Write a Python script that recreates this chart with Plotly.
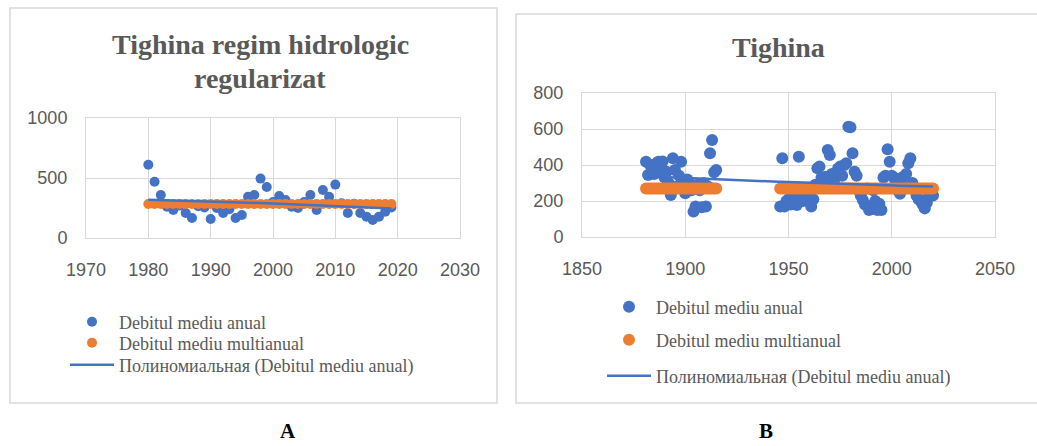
import numpy as np
import plotly.graph_objects as go

W, H = 1037, 446

# ---------------- data: panel A (regulated regime) ----------------
YEARS_A = list(range(1980, 2020))
ANNUAL_A = [610, 469, 358, 261, 233, 270, 208, 167, 265, 255,
            158, 250, 208, 240, 167, 192, 344, 358, 495, 425,
            300, 350, 317, 261, 250, 300, 358, 233, 400, 344,
            445, 290, 208, 285, 208, 178, 150, 178, 219, 255]
MULTI_A = 283

# ---------------- data: panel B (full record) ----------------
YEARS_B = list(range(1881, 1916)) + list(range(1946, 2021))
ANNUAL_B = [418, 344, 400, 380, 350, 410, 418, 370, 420, 330,
            363, 300, 233, 437, 372, 280, 340, 418, 290, 243,
            320, 300, 260, 141, 170, 290, 260, 165, 300, 169,
            280, 465, 539, 360, 372,
            169, 437, 169, 200, 210, 180, 240, 190, 178, 446,
            230, 200, 260, 220, 250, 169, 210, 290, 382, 391,
            330, 300, 335, 483, 456, 350, 300, 335, 380, 391,
            340, 400, 410, 613, 610, 465, 363, 340, 260, 230,
            206, 180, 270, 150, 170, 260, 200, 150, 185, 150,
            330, 340, 487, 418, 340, 330, 300, 260, 240, 330,
            280, 350, 410, 437, 300, 270, 230, 210, 200, 180,
            159, 190, 230, 250, 230]
MULTI_B = 270

NAMES = ["Debitul mediu anual", "Debitul mediu multianual",
         "Полиномиальная (Debitul mediu anual)"]
TITLE_A1 = "Tighina regim hidrologic"
TITLE_A2 = "regularizat"
TITLE_B = "Tighina"

BLUE = "#4472C4"
ORANGE = "#ED7D31"
GRID = "#D9D9D9"
TXT = "#595959"


def px_x(p):
    return p / W


def px_y(p):
    return 1 - p / H


def trend(years, vals):
    c = np.polyfit(years, vals, 2)
    xs = np.arange(min(years), max(years) + 1)
    return xs, np.polyval(c, xs)


fig = go.Figure()


def add_panel(years, vals, multi, xa, ya, legs, msize):
    fig.add_trace(go.Scatter(x=years, y=vals, mode="markers", name=NAMES[0],
                             marker=dict(color=BLUE, size=msize),
                             xaxis=xa, yaxis=ya, legend=legs[0], showlegend=True))
    fig.add_trace(go.Scatter(x=years, y=[multi] * len(years), mode="markers", name=NAMES[1],
                             marker=dict(color=ORANGE, size=msize),
                             xaxis=xa, yaxis=ya, legend=legs[1], showlegend=True))
    tx, ty = trend(years, vals)
    fig.add_trace(go.Scatter(x=tx, y=ty, mode="lines", name=NAMES[2],
                             line=dict(color=BLUE, width=2.5),
                             xaxis=xa, yaxis=ya, legend=legs[2], showlegend=True))


add_panel(YEARS_A, ANNUAL_A, MULTI_A, "x", "y", ["legend", "legend2", "legend3"], 10)
add_panel(YEARS_B, ANNUAL_B, MULTI_B, "x2", "y2", ["legend4", "legend5", "legend6"], 12)

axis_common = dict(showgrid=True, gridcolor=GRID, gridwidth=1, zeroline=False,
                   showline=True, linecolor=GRID, mirror=True, linewidth=1,
                   automargin=False,
                   ticks="outside", tickcolor="rgba(0,0,0,0)",
                   tickfont=dict(family="Liberation Sans", size=18, color=TXT))


def leg(xp, yp):
    return dict(x=px_x(xp), y=px_y(yp), xanchor="left", yanchor="middle",
                bgcolor="rgba(0,0,0,0)", itemwidth=44,
                font=dict(family="Liberation Serif", size=18, color=TXT))


# legend positions: (left edge of legend box, row centre)
LA_X, LA_ROWS = 65, [322, 343, 365]
LB_X, LB_ROWS = 602, [307, 340, 376]


def ann(text, xp, yp, size, color, bold=True):
    return dict(text=text, x=px_x(xp), y=px_y(yp), xref="paper", yref="paper",
                xanchor="center", yanchor="middle", showarrow=False,
                font=dict(family="Liberation Serif", size=size, color=color,
                          weight="bold" if bold else "normal"))


fig.update_layout(
    width=W, height=H,
    showlegend=True,
    margin=dict(l=0, r=0, t=0, b=0, autoexpand=False),
    paper_bgcolor="white", plot_bgcolor="white",
    xaxis=dict(domain=[px_x(86), px_x(460)], range=[1970, 2030], dtick=10,
               anchor="y", ticklen=15, **axis_common),
    yaxis=dict(domain=[px_y(238), px_y(118)], range=[0, 1000], dtick=500,
               anchor="x", ticklen=14, **axis_common),
    xaxis2=dict(domain=[px_x(582), px_x(995)], range=[1850, 2050], dtick=50,
                anchor="y2", ticklen=15, **axis_common),
    yaxis2=dict(domain=[px_y(237), px_y(93)], range=[0, 800], dtick=200,
                anchor="x2", ticklen=14, **axis_common),
    legend=leg(LA_X, LA_ROWS[0]),
    legend2=leg(LA_X, LA_ROWS[1]),
    legend3=leg(LA_X, LA_ROWS[2]),
    legend4=leg(LB_X, LB_ROWS[0]),
    legend5=leg(LB_X, LB_ROWS[1]),
    legend6=leg(LB_X, LB_ROWS[2]),
    shapes=[
        dict(type="rect", xref="paper", yref="paper",
             x0=px_x(10), x1=px_x(497), y0=px_y(403), y1=px_y(8),
             line=dict(color=GRID, width=1.5)),
        dict(type="rect", xref="paper", yref="paper",
             x0=px_x(516), x1=px_x(1045), y0=px_y(403), y1=px_y(14),
             line=dict(color=GRID, width=1.5)),
    ],
    annotations=[
        ann(TITLE_A1, 260, 45, 28, TXT),
        ann(TITLE_A2, 260, 78, 28, TXT),
        ann(TITLE_B, 778, 48, 28, TXT),
        ann("A", 288, 431, 21, "black"),
        ann("B", 766, 431, 21, "black"),
    ],
)

fig.write_html("out.html", config={"displayModeBar": False},
               post_script="document.body.style.margin='0px';")
